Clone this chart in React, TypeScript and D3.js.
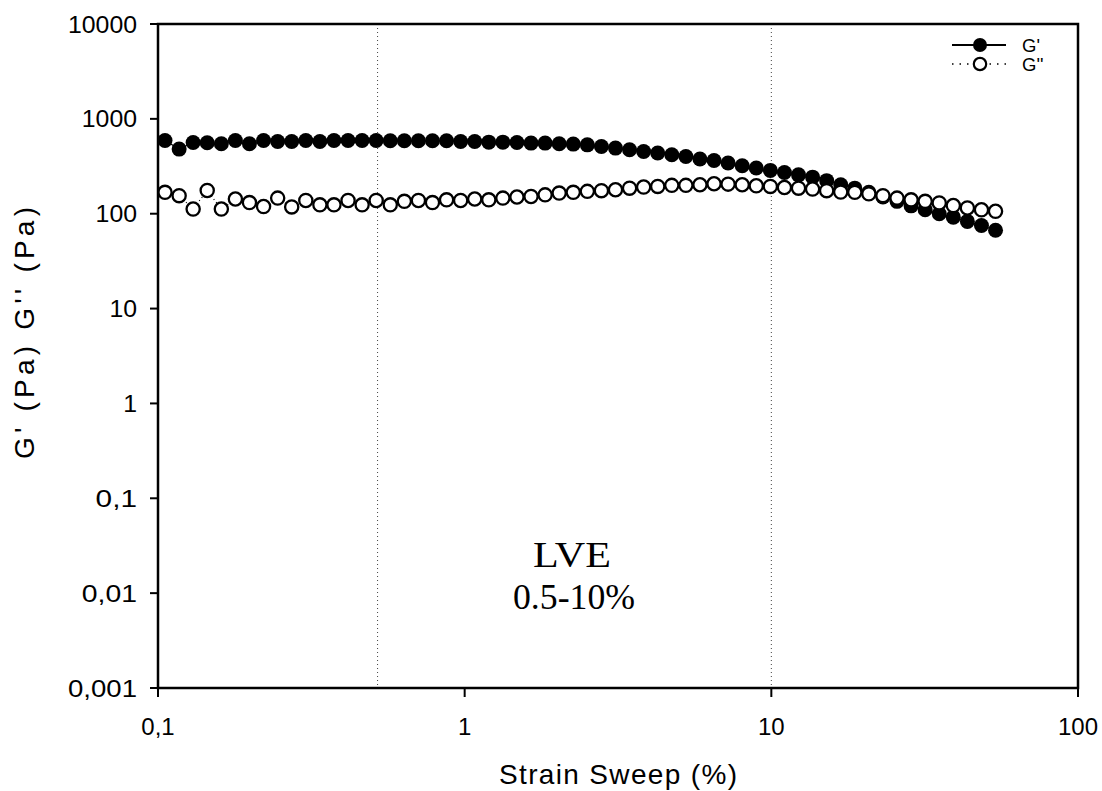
import React from "react";
import * as d3 from "d3";

const strain: number[] = [
  0.1054, 0.1172, 0.1302, 0.1447, 0.1609, 0.1788, 0.1987, 0.2209, 0.2456, 0.2729,
  0.3034, 0.3372, 0.3748, 0.4166, 0.463, 0.5146, 0.572, 0.6357, 0.7066, 0.7853,
  0.873, 0.9703, 1.0784, 1.1986, 1.3323, 1.4808, 1.6459, 1.8294, 2.0333, 2.26,
  2.5119, 2.792, 3.1032, 3.4492, 3.8337, 4.2611, 4.7362, 5.2642, 5.851, 6.5033,
  7.2277, 8.0353, 8.9308, 9.9263, 11.033, 12.263, 13.63, 15.149, 16.838, 18.714,
  20.797, 23.116, 25.694, 28.557, 31.74, 35.28, 39.21, 43.58, 48.44, 53.84,
];

const gPrime: number[] = [
  591, 480, 563, 559, 546, 591, 546, 591, 577, 577,
  591, 577, 591, 591, 591, 591, 587, 587, 587, 587,
  587, 577, 577, 568, 568, 563, 555, 555, 546, 542,
  532, 511, 492, 472, 453, 436, 418, 401, 377, 364,
  342, 320, 303, 286, 272, 257, 243, 223, 202, 186,
  168, 150, 135, 121, 110, 100, 92, 83, 75, 67,
];

const gDouble: number[] = [
  168, 155, 112, 176, 112, 143, 131, 119, 146, 118,
  138, 124, 124, 138, 124, 138, 124, 135, 138, 131,
  140, 138, 143, 140, 146, 150, 152, 158, 165, 168,
  172, 175, 179, 186, 191, 194, 199, 199, 202, 207,
  205, 202, 197, 194, 189, 186, 182, 175, 169, 168,
  162, 155, 146, 140, 135, 130, 122, 115, 110, 106,
];

const xTicks: number[] = [0.1, 1, 10, 100];
const xTickLabels: string[] = ["0,1", "1", "10", "100"];
const yTicks: number[] = [0.001, 0.01, 0.1, 1, 10, 100, 1000, 10000];
const yTickLabels: string[] = ["0,001", "0,01", "0,1", "1", "10", "100", "1000", "10000"];
const refLines: number[] = [0.52, 10];
const legendLabels: string[] = ["G'", "G''"];

const W = 1102;
const H = 791;
const L = 158, R = 1078, T = 24, B = 688;
const SANS = "'Liberation Sans', Arial, Helvetica, sans-serif";
const SERIF = "'Liberation Serif', 'Times New Roman', serif";

export default function App() {
  const x = d3.scaleLog().domain([0.1, 100]).range([L, R]);
  const y = d3.scaleLog().domain([0.001, 10000]).range([B, T]);
  const line = (vals: number[]) =>
    d3.line<number>().x((_, i) => x(strain[i])).y((v) => y(v))(vals) || "";

  return (
    <svg width={W} height={H} style={{ position: "absolute", left: 0, top: 0, background: "#fff" }}>
      <rect x={0} y={0} width={W} height={H} fill="#fff" />
      {refLines.map((v, i) => (
        <line key={i} x1={x(v)} x2={x(v)} y1={T} y2={B} stroke="#444" strokeWidth={1} strokeDasharray="1,3" />
      ))}
      <path d={line(gPrime)} fill="none" stroke="#000" strokeWidth={1.2} />
      <path d={line(gDouble)} fill="none" stroke="#000" strokeWidth={1.2} strokeDasharray="1,3" />
      {gPrime.map((v, i) => (
        <circle key={"p" + i} cx={x(strain[i])} cy={y(v)} r={7.5} fill="#000" />
      ))}
      {gDouble.map((v, i) => (
        <circle key={"d" + i} cx={x(strain[i])} cy={y(v)} r={6.6} fill="#fff" stroke="#000" strokeWidth={2.3} />
      ))}
      <rect x={L} y={T} width={R - L} height={B - T} fill="none" stroke="#000" strokeWidth={2.5} />
      {yTicks.map((v, i) => (
        <g key={"yt" + i}>
          <line x1={L - 8} x2={L} y1={y(v)} y2={y(v)} stroke="#000" strokeWidth={2} />
          <text x={137} y={y(v) + 8.5} textAnchor="end" fontFamily={SANS} fontSize={24} fill="#000"
            textLength={yTickLabels[i].length * 13.8} lengthAdjust="spacingAndGlyphs">
            {yTickLabels[i]}
          </text>
        </g>
      ))}
      {xTicks.map((v, i) => (
        <g key={"xt" + i}>
          <line x1={x(v)} x2={x(v)} y1={B} y2={B + 9} stroke="#000" strokeWidth={2} />
          <text x={x(v)} y={735} textAnchor="middle" fontFamily={SANS} fontSize={24} fill="#000">
            {xTickLabels[i]}
          </text>
        </g>
      ))}
      <text x={618} y={784} textAnchor="middle" fontFamily={SANS} fontSize={28} fill="#000"
        textLength={238} lengthAdjust="spacing">
        Strain Sweep (%)
      </text>
      <text transform="translate(34,333) rotate(-90)" textAnchor="middle" fontFamily={SANS} fontSize={28}
        fill="#000" textLength={252} lengthAdjust="spacing">
        G' (Pa) G'' (Pa)
      </text>
      <text x={572} y={567} textAnchor="middle" fontFamily={SERIF} fontSize={35} fill="#000"
        textLength={78} lengthAdjust="spacingAndGlyphs">LVE</text>
      <text x={574} y={609} textAnchor="middle" fontFamily={SERIF} fontSize={35} fill="#000"
        textLength={122} lengthAdjust="spacingAndGlyphs">0.5-10%</text>
      <g>
        <line x1={952} x2={1006} y1={45} y2={45} stroke="#000" strokeWidth={2} />
        <circle cx={980} cy={45} r={7} fill="#000" />
        <text x={1022} y={51.5} fontFamily={SANS} fontSize={18.5} fill="#000">{legendLabels[0]}</text>
        <line x1={952} x2={1006} y1={64} y2={64} stroke="#000" strokeWidth={1.5} strokeDasharray="1.5,6" />
        <circle cx={980} cy={64} r={6.2} fill="#fff" stroke="#000" strokeWidth={2.2} />
        <text x={1022} y={70.5} fontFamily={SANS} fontSize={18.5} fill="#000">{legendLabels[1]}</text>
      </g>
    </svg>
  );
}
